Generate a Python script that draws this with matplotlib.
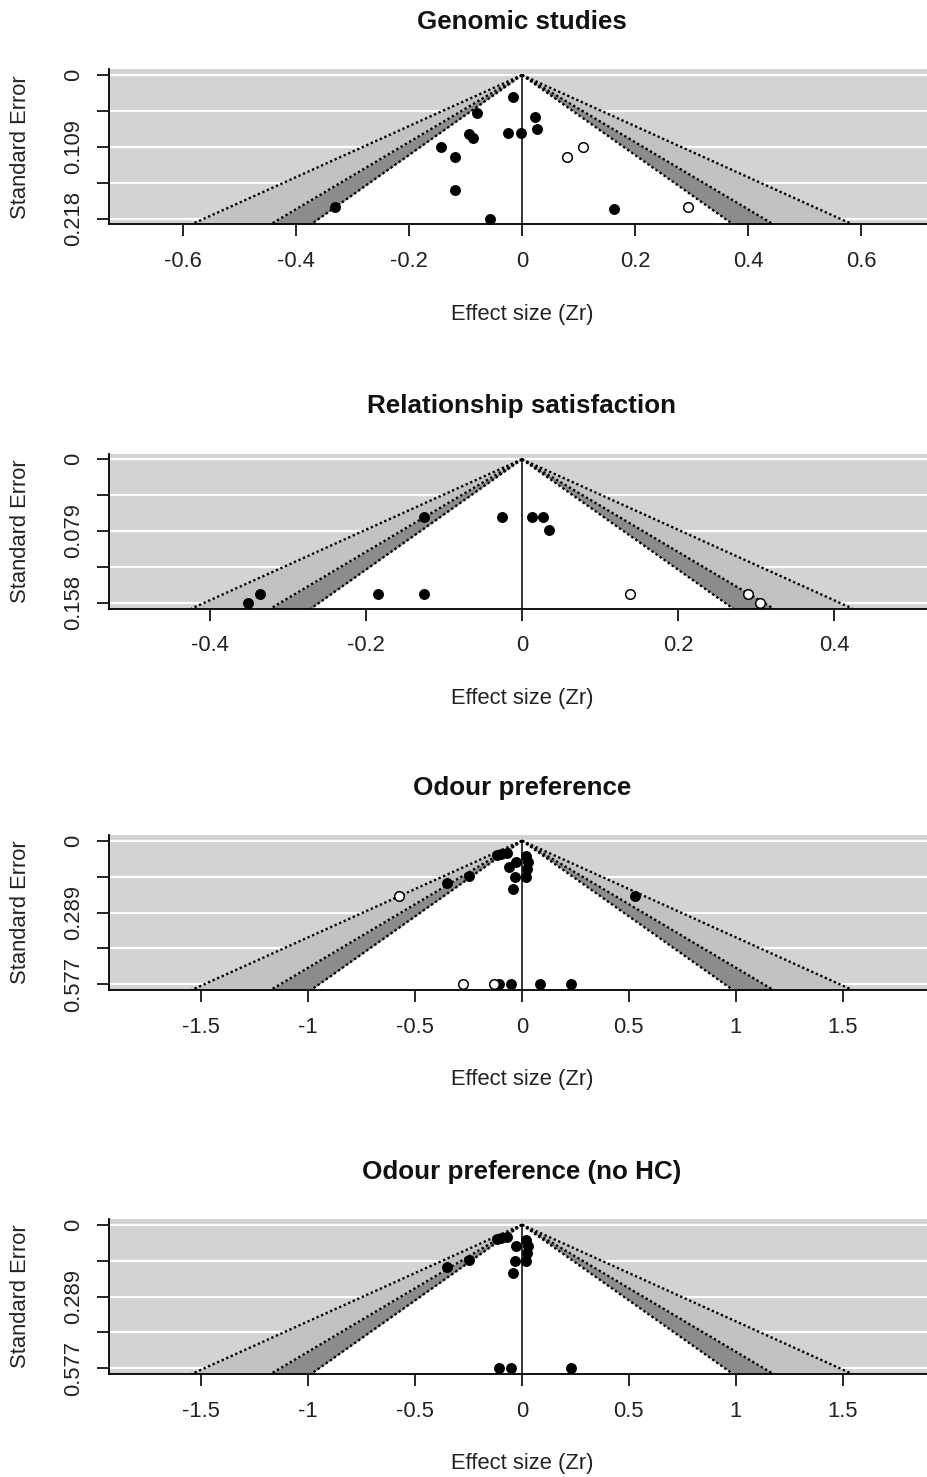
import numpy as np
import matplotlib
matplotlib.use("Agg")
import matplotlib.pyplot as plt

plt.rcParams['font.family'] = ['Liberation Sans', 'DejaVu Sans']
plt.rcParams['axes.unicode_minus'] = False

# ---- Genomic studies ----
genomic_zr = [-0.016, -0.080, 0.023, 0.026, -0.024, -0.001, -0.094, -0.087,
              -0.143, -0.119, -0.119, -0.330, -0.056, 0.163]
genomic_se = [0.034, 0.057, 0.063, 0.082, 0.088, 0.088, 0.090, 0.096,
              0.109, 0.124, 0.174, 0.201, 0.218, 0.204]
genomic_fill_zr = [0.107, 0.080, 0.293]
genomic_fill_se = [0.109, 0.124, 0.201]

# ---- Relationship satisfaction ----
relation_zr = [-0.126, -0.025, 0.013, 0.027, 0.034, -0.336, -0.351, -0.185, -0.126]
relation_se = [0.064, 0.064, 0.064, 0.064, 0.078, 0.148, 0.158, 0.148, 0.148]
relation_fill_zr = [0.139, 0.289, 0.305]
relation_fill_se = [0.148, 0.148, 0.158]

# ---- Odour preference (no HC) ----
odour_nohc_zr = [-0.118, -0.097, -0.069, -0.027, 0.020, 0.027, 0.024, -0.035,
                 0.020, -0.043, -0.249, -0.350, -0.109, -0.051, 0.227]
odour_nohc_se = [0.059, 0.054, 0.049, 0.086, 0.062, 0.086, 0.115, 0.146,
                 0.146, 0.195, 0.143, 0.170, 0.577, 0.577, 0.577]

# ---- Odour preference (all studies, incl. HC users) ----
odour_hc_extra_zr = [0.530, 0.082, -0.059]
odour_hc_extra_se = [0.224, 0.577, 0.107]
odour_zr = odour_nohc_zr + odour_hc_extra_zr
odour_se = odour_nohc_se + odour_hc_extra_se
odour_fill_zr = [-0.577, -0.277, -0.129]
odour_fill_se = [0.224, 0.577, 0.577]

titles = ["Genomic studies", "Relationship satisfaction",
          "Odour preference", "Odour preference (no HC)"]
x_ticks = [[-0.6, -0.4, -0.2, 0, 0.2, 0.4, 0.6],
           [-0.4, -0.2, 0, 0.2, 0.4],
           [-1.5, -1, -0.5, 0, 0.5, 1, 1.5],
           [-1.5, -1, -0.5, 0, 0.5, 1, 1.5]]

panels = [
    (genomic_zr, genomic_se, genomic_fill_zr, genomic_fill_se),
    (relation_zr, relation_se, relation_fill_zr, relation_fill_se),
    (odour_zr, odour_se, odour_fill_zr, odour_fill_se),
    (odour_nohc_zr, odour_nohc_se, [], []),
]

W, H = 928, 1477
fig = plt.figure(figsize=(W / 100, H / 100), dpi=100)

# contour levels (two-sided p = .10, .05, .01) and their shades
Z90, Z95, Z99 = 1.645, 1.960, 2.576
BACK = '#d3d3d3'
SHADES = [(Z99, '#c2c2c2'), (Z95, '#8c8c8c'), (Z90, 'white')]

TICK_FS = 15.8
TITLE_FS = 18.7

AX_LEFT, AX_W, AX_H = 109, 826, 155
panel_tops = [69.3, 453.5, 835.0, 1219.0]


def fmt(v):
    s = '%.3f' % (v + 1e-9)
    s = s.rstrip('0').rstrip('.')
    return s


def fmt_x(v):
    return ('%g' % v)


for i, (zr, se, fzr, fse) in enumerate(panels):
    top = panel_tops[i]
    ax = fig.add_axes([AX_LEFT / W, 1 - (top + AX_H) / H, AX_W / W, AX_H / H])
    se_max = max(list(se) + list(fse))
    half = 1.3 * Z99 * se_max
    y_lo, y_hi = -0.04 * se_max, 1.04 * se_max
    ax.set_xlim(-half, half)
    ax.set_ylim(y_hi, y_lo)
    ax.set_facecolor(BACK)

    yt = np.linspace(0, se_max, 5)
    for y in yt:
        ax.axhline(y, color='white', lw=1.6, zorder=1)

    s = np.array([0.0, y_hi])
    for z, col in SHADES:
        ax.fill_betweenx(s, -z * s, z * s, color=col, lw=0, zorder=2)
    for z, _ in SHADES:
        for sign in (-1, 1):
            ax.plot(sign * z * s, s, color='black', lw=1.7,
                    linestyle=(0, (1.0, 1.1)), zorder=3)
    ax.plot([0, 0], [0, y_hi], color='black', lw=1.1, zorder=4)

    ax.scatter(zr, se, s=62, c='black', lw=0, zorder=5)
    if len(fzr):
        ax.scatter(fzr, fse, s=48, facecolor='white', edgecolor='black',
                   lw=1.1, zorder=5)

    for side in ('top', 'right'):
        ax.spines[side].set_visible(False)
    for side in ('left', 'bottom'):
        ax.spines[side].set_linewidth(1.3)
        ax.spines[side].set_zorder(6)

    ax.set_xticks(x_ticks[i])
    ax.set_xticklabels([fmt_x(v) for v in x_ticks[i]], fontsize=TICK_FS)
    ax.set_yticks(yt)
    ax.set_yticklabels([fmt(v) if k % 2 == 0 else '' for k, v in enumerate(yt)],
                       fontsize=TICK_FS, rotation=90, va='center')
    ax.tick_params(axis='both', direction='out', length=8.8, width=1.2,
                   color='black', labelcolor='#222222')
    ax.tick_params(axis='x', pad=10.5)
    ax.tick_params(axis='y', pad=9.0)

    zero_px = top + 0.04 * AX_H / 1.08
    fig.text(522 / W, 1 - (zero_px - 53) / H, titles[i], ha='center',
             va='center', fontsize=TITLE_FS, fontweight='bold', color='#111111')
    fig.text(522 / W, 1 - (zero_px + 239) / H, 'Effect size (Zr)', ha='center',
             va='center', fontsize=TICK_FS, color='#222222')
    fig.text(21 / W, 1 - (top + AX_H / 2) / H, 'Standard Error', ha='center',
             va='center', rotation=90, fontsize=TICK_FS, color='#222222')

fig.savefig('out.png', dpi=100, facecolor='white')
